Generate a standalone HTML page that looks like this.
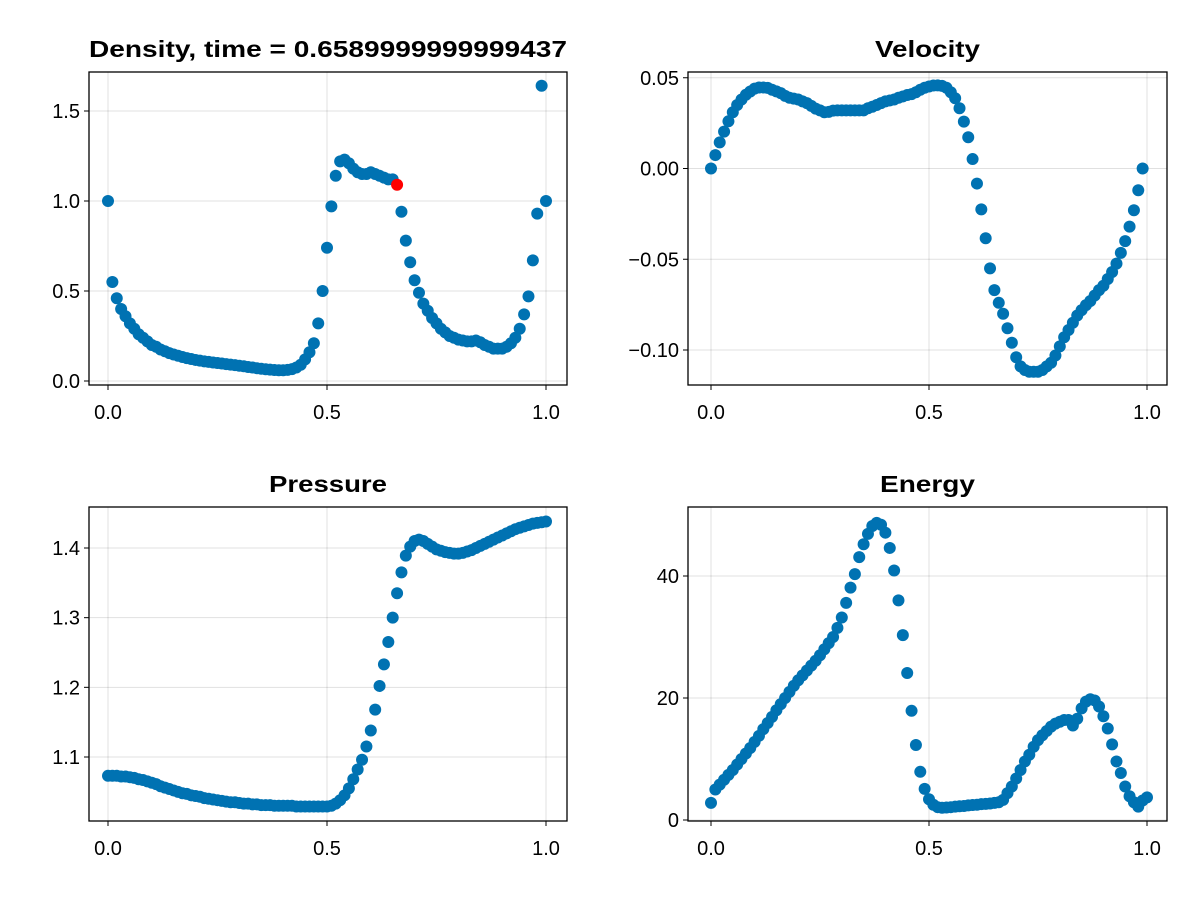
<!DOCTYPE html>
<html><head><meta charset="utf-8"><style>
html,body{margin:0;padding:0;background:#fff;}
svg text{font-family:"Liberation Sans",sans-serif;}
</style></head><body>
<svg id="fig" width="1200" height="900" xmlns="http://www.w3.org/2000/svg"></svg>
<script>
const xTicks=[0,0.5,1.0];
const xTickLabels=["0.0","0.5","1.0"];
const densityTicks=[0,0.5,1.0,1.5];
const densityTickLabels=["0.0","0.5","1.0","1.5"];
const velocityTicks=[0.05,0,-0.05,-0.10];
const velocityTickLabels=["0.05","0.00","−0.05","−0.10"];
const pressureTicks=[1.1,1.2,1.3,1.4];
const pressureTickLabels=["1.1","1.2","1.3","1.4"];
const energyTicks=[0,20,40];
const energyTickLabels=["0","20","40"];
const density=[1.0,0.55,0.46,0.40,0.36,0.32,0.29,0.26,0.24,0.22,0.20,0.19,0.175,0.165,0.155,0.147,0.14,0.133,0.127,0.122,0.117,0.113,0.109,0.106,0.103,0.100,0.097,0.094,0.091,0.088,0.085,0.082,0.078,0.075,0.071,0.068,0.065,0.063,0.061,0.060,0.060,0.062,0.066,0.075,0.09,0.12,0.16,0.21,0.32,0.50,0.74,0.97,1.14,1.22,1.23,1.21,1.18,1.16,1.15,1.15,1.16,1.15,1.14,1.13,1.12,1.12,1.09,0.94,0.78,0.66,0.56,0.49,0.43,0.39,0.35,0.32,0.29,0.27,0.25,0.24,0.23,0.225,0.22,0.22,0.225,0.215,0.20,0.19,0.18,0.18,0.18,0.19,0.21,0.24,0.29,0.37,0.47,0.67,0.93,1.64,1.0];
const highlightIndex=66;
const velocity=[0,0.0074,0.0144,0.0203,0.026,0.031,0.035,0.038,0.0406,0.0424,0.044,0.0446,0.0446,0.0444,0.0434,0.0425,0.0415,0.040,0.039,0.0385,0.038,0.037,0.036,0.0345,0.033,0.032,0.031,0.0312,0.0319,0.032,0.032,0.032,0.032,0.032,0.032,0.032,0.0332,0.034,0.035,0.036,0.037,0.0375,0.038,0.039,0.0397,0.0405,0.041,0.042,0.0434,0.0445,0.0452,0.0457,0.0458,0.0455,0.0445,0.042,0.0387,0.0332,0.0258,0.0172,0.0052,-0.0083,-0.0225,-0.0384,-0.055,-0.067,-0.074,-0.080,-0.088,-0.096,-0.104,-0.109,-0.111,-0.112,-0.112,-0.112,-0.111,-0.109,-0.107,-0.103,-0.098,-0.093,-0.089,-0.085,-0.081,-0.078,-0.0753,-0.073,-0.070,-0.067,-0.0646,-0.0609,-0.057,-0.0524,-0.0465,-0.040,-0.032,-0.023,-0.012,0.0];
const pressure=[1.073,1.073,1.073,1.072,1.072,1.071,1.070,1.068,1.067,1.065,1.063,1.061,1.058,1.056,1.054,1.052,1.050,1.048,1.047,1.045,1.044,1.043,1.041,1.040,1.039,1.038,1.037,1.036,1.035,1.035,1.034,1.033,1.033,1.032,1.032,1.031,1.031,1.031,1.030,1.030,1.030,1.030,1.030,1.029,1.029,1.029,1.029,1.029,1.029,1.029,1.029,1.030,1.033,1.038,1.045,1.055,1.068,1.082,1.096,1.115,1.138,1.168,1.202,1.233,1.265,1.300,1.335,1.365,1.389,1.402,1.410,1.412,1.410,1.406,1.402,1.398,1.396,1.394,1.393,1.392,1.392,1.393,1.395,1.397,1.400,1.403,1.406,1.409,1.412,1.415,1.418,1.421,1.424,1.427,1.429,1.431,1.433,1.435,1.436,1.437,1.438];
const energy=[2.8,5.0,5.8,6.6,7.4,8.2,9.1,10.0,10.9,11.8,12.8,13.8,14.9,15.9,16.9,18.0,19.0,20.0,21.0,22.0,22.9,23.7,24.5,25.3,26.1,27.0,28.0,29.0,30.0,31.5,33.2,35.6,38.1,40.3,43.1,45.2,46.9,48.2,48.7,48.4,47.1,44.6,40.9,36.0,30.3,24.1,17.9,12.3,7.9,5.1,3.4,2.5,2.1,2.0,2.05,2.1,2.2,2.25,2.3,2.4,2.45,2.5,2.6,2.65,2.7,2.8,2.9,3.3,4.4,5.5,6.8,8.2,9.6,10.7,12.0,13.1,13.9,14.6,15.3,15.8,16.1,16.4,16.4,15.5,16.6,18.3,19.4,19.8,19.6,18.6,17.0,15.0,12.4,9.6,7.7,5.5,3.9,2.9,2.2,3.2,3.7];

const NS="http://www.w3.org/2000/svg";
const svg=document.getElementById('fig');
function mk(tag,attrs,parent){const e=document.createElementNS(NS,tag);for(const k in attrs)e.setAttribute(k,attrs[k]);(parent||svg).appendChild(e);return e;}
function linear(d0,d1,r0,r1){return v=>r0+(v-d0)*(r1-r0)/(d1-d0);}

const panels=[
 {name:'density',title:'Density, time = 0.6589999999999437',tl:478,box:[89,72,567,385],xs:linear(0,1,108,546),ys:linear(0,1.5,381,111),data:density,yt:densityTicks,ytl:densityTickLabels},
 {name:'velocity',title:'Velocity',tl:105,box:[688,72,1167,385],xs:linear(0,1,711,1147),ys:linear(0,-0.1,168.5,350),data:velocity,yt:velocityTicks,ytl:velocityTickLabels},
 {name:'pressure',title:'Pressure',tl:118,box:[89,507,567,821],xs:linear(0,1,108,546),ys:linear(1.1,1.4,757,548),data:pressure,yt:pressureTicks,ytl:pressureTickLabels},
 {name:'energy',title:'Energy',tl:95,box:[688,507,1167,821],xs:linear(0,1,711,1147),ys:linear(0,40,820,576),data:energy,yt:energyTicks,ytl:energyTickLabels}
];
panels.forEach(p=>{
 const [x0,y0,x1,y1]=p.box;
 const g=mk('g',{});
 
 
 xTicks.forEach((t,i)=>{
  const x=p.xs(t);
  const gl=mk('line',{x1:x,x2:x,y1:y0,y2:y1,stroke:'rgba(0,0,0,0.12)','stroke-width':1},g);
  
  
  mk('line',{x1:x,x2:x,y1:y1,y2:y1+5,stroke:'#000','stroke-width':1},g);
  const tx=mk('text',{x:x,y:y1+34,'text-anchor':'middle','font-size':20,fill:'#000'},g);
  tx.textContent=xTickLabels[i];
  
  
 });
 p.yt.forEach((t,i)=>{
  const y=p.ys(t);
  const gl=mk('line',{x1:x0,x2:x1,y1:y,y2:y,stroke:'rgba(0,0,0,0.12)','stroke-width':1},g);
  
  
  mk('line',{x1:x0-5,x2:x0,y1:y,y2:y,stroke:'#000','stroke-width':1},g);
  const tx=mk('text',{x:x0-9,y:y+7,'text-anchor':'end','font-size':20,fill:'#000'},g);
  tx.textContent=p.ytl[i];
  
  
 });
 p.data.forEach((v,i)=>{
  const red=(p.name==='density'&&i===highlightIndex);
  if(red)return;
  const c=mk('circle',{cx:p.xs(i/100),cy:p.ys(v),r:6,fill:'#0072b2'},g);
  
  
 });
 if(p.name==='density'){
  const c=mk('circle',{cx:p.xs(highlightIndex/100),cy:p.ys(p.data[highlightIndex]),r:6,fill:'#ff0000'},g);
  
  
 }
 const fr=mk('rect',{x:x0,y:y0,width:x1-x0,height:y1-y0,fill:'none',stroke:'#000','stroke-width':1.3},g);
 
 
 const tt=mk('text',{x:(x0+x1)/2,y:y0-15,'text-anchor':'middle','font-size':23,'font-weight':'bold',fill:'#000',textLength:p.tl,lengthAdjust:'spacingAndGlyphs'},g);
 tt.textContent=p.title;
 
 
});
</script>
</body></html>
